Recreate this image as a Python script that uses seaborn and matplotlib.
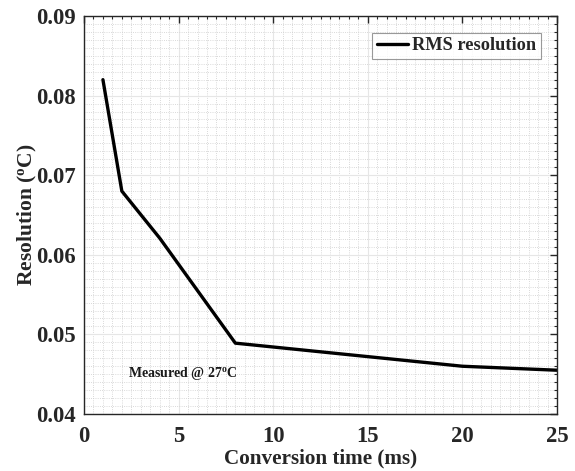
import matplotlib
matplotlib.use("Agg")
import matplotlib.pyplot as plt
import seaborn as sns
import pandas as pd
from matplotlib.ticker import MultipleLocator

conversion_time_ms = [1, 2, 4, 8, 20, 25]
rms_resolution = [0.0820, 0.0680, 0.0621, 0.0489, 0.0460, 0.0455]
series_label = "RMS resolution"
x_ticks = [0, 5, 10, 15, 20, 25]
y_ticks = [0.04, 0.05, 0.06, 0.07, 0.08, 0.09]

sns.set_theme(style="white")
plt.rcParams['font.family'] = ['Liberation Serif', 'DejaVu Serif']
plt.rcParams['font.weight'] = 'bold'
plt.rcParams['mathtext.fontset'] = 'custom'
plt.rcParams['mathtext.rm'] = 'Liberation Serif:bold'
plt.rcParams['mathtext.it'] = 'Liberation Serif:bold'
plt.rcParams['mathtext.bf'] = 'Liberation Serif:bold'

df = pd.DataFrame({"t": conversion_time_ms, "r": rms_resolution, "s": series_label})

fig = plt.figure(figsize=(5.75, 4.71), dpi=100)
ax = fig.add_axes([84/575, 1-414/471, (557-84)/575, (414-16)/471])

sns.lineplot(data=df, x="t", y="r", hue="s", palette=["black"], linewidth=2.4, ax=ax)

ax.set_xlim(0, 25)
ax.set_ylim(0.04, 0.09)
ax.set_xticks(x_ticks)
ax.set_yticks(y_ticks)
ax.set_xticklabels([str(v) for v in x_ticks])
ax.set_yticklabels([f"{v:.2f}" for v in y_ticks])
ax.xaxis.set_minor_locator(MultipleLocator(0.5))
ax.yaxis.set_minor_locator(MultipleLocator(0.001))

ax.grid(which='major', color='#e6e6e6', linestyle='-', linewidth=0.8)
ax.grid(which='minor', color='#cccccc', linestyle=':', linewidth=0.6)
ax.set_axisbelow(True)

ax.tick_params(which='both', direction='in', top=True, right=True, colors='#262626')
ax.tick_params(which='major', length=5, width=1.0, labelsize=16.3)
ax.tick_params(axis='x', which='major', pad=9)
ax.tick_params(axis='y', which='major', pad=6)
ax.tick_params(which='minor', length=2.5, width=0.8)
for lab in ax.get_xticklabels() + ax.get_yticklabels():
    lab.set_fontweight('bold')
    lab.set_color('#262626')
for sp in ax.spines.values():
    sp.set_color('#262626')
    sp.set_linewidth(1.0)

ax.set_xlabel("Conversion time (ms)", fontsize=15.2, fontweight='bold', color='#262626', labelpad=1)
ax.set_ylabel(r"Resolution ($^\mathrm{o}$C)", fontsize=15.5, fontweight='bold', color='#262626', labelpad=-2)

ax.text(2.3, 0.04505, r"Measured @ 27$^\mathrm{o}$C", fontsize=10, fontweight='bold',
        color='#1a1a1a', va='center', ha='left')

leg = ax.legend(loc='upper right', fontsize=13.2, frameon=True, fancybox=False,
                edgecolor='#808080', handlelength=1.7, handletextpad=0.2,
                borderpad=0.25, borderaxespad=0.9)
leg.get_frame().set_linewidth(0.8)
for t in leg.get_texts():
    t.set_fontweight('bold')

fig.savefig("out.png", dpi=100)
